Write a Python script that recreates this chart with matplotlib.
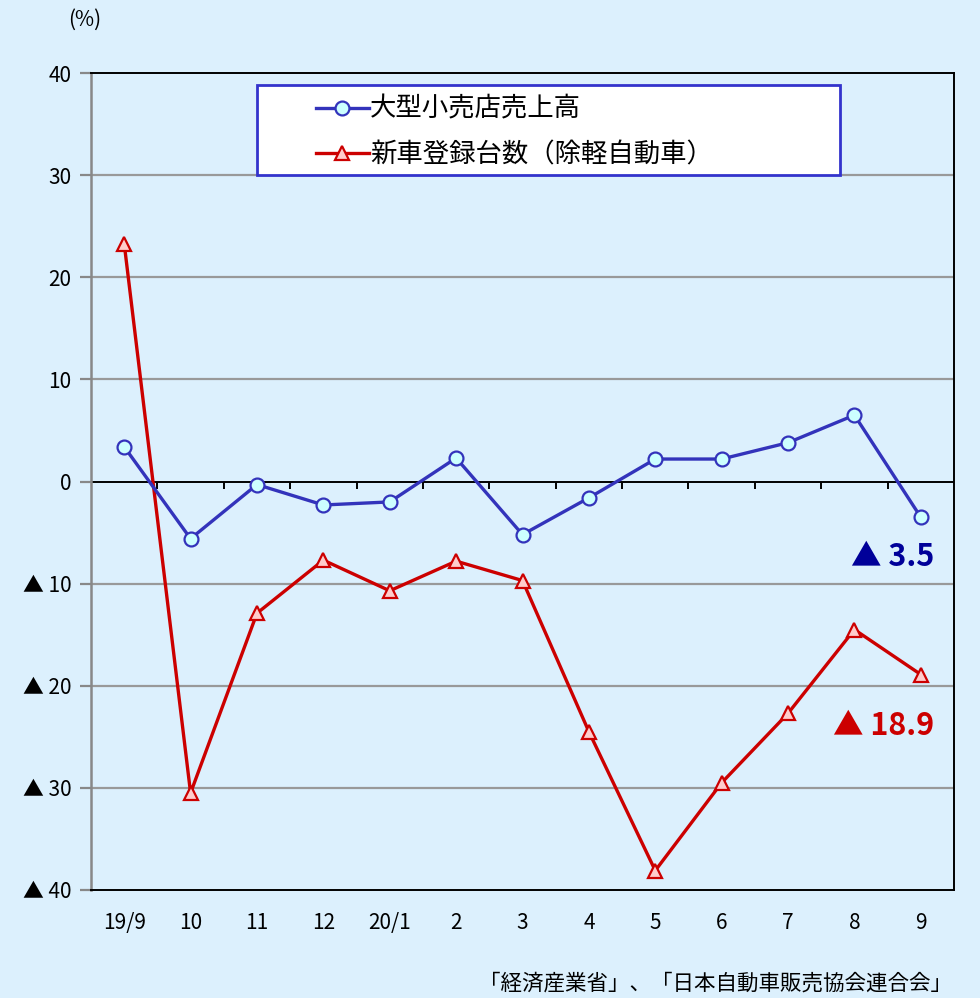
import matplotlib
matplotlib.use("Agg")
import matplotlib.pyplot as plt
from matplotlib.patches import Rectangle

plt.rcParams["font.family"] = ["Noto Sans CJK JP", "DejaVu Sans"]

months = ["19/9", "10", "11", "12", "20/1", "2", "3", "4", "5", "6", "7", "8", "9"]
retail_sales = [3.4, -5.6, -0.3, -2.3, -2.0, 2.3, -5.2, -1.6, 2.2, 2.2, 3.8, 6.5, -3.5]
new_cars = [23.3, -30.5, -12.9, -7.7, -10.7, -7.8, -9.7, -24.5, -38.1, -29.5, -22.7, -14.5, -18.9]
y_ticks = [40, 30, 20, 10, 0, -10, -20, -30, -40]

retail_label = "大型小売店売上高"
cars_label = "新車登録台数（除軽自動車）"
source_text = "「経済産業省」、「日本自動車販売協会連合会」"

BG = "#DCF0FD"
BLUE = "#3333BB"
RED = "#CC0000"


def pct_label(v):
    # negative values are written with a ▲ prefix
    return f"▲ {abs(v):g}" if v < 0 else f"{v:g}"


fig = plt.figure(figsize=(9.8, 9.98), dpi=100, facecolor=BG)
ax = fig.add_axes([91 / 980, 1 - 890 / 998, (954 - 91) / 980, (890 - 73) / 998])
ax.set_facecolor(BG)

x = list(range(len(months)))
ax.set_xlim(-0.5, len(months) - 0.5)
ax.set_ylim(-40, 40)

for v in y_ticks[1:-1]:
    if v != 0:
        ax.axhline(v, color="#999999", linewidth=1.6, zorder=1)
ax.axhline(0, color="black", linewidth=1.4, zorder=2)
ax.vlines([i + 0.5 for i in x[:-1]], -0.7, 0, color="black", linewidth=1.4, zorder=2)

ax.plot(x, retail_sales, color=BLUE, linewidth=2.4, marker="o", markersize=10,
        markerfacecolor="#CCFFFF", markeredgecolor=BLUE, markeredgewidth=1.6,
        zorder=4, label=retail_label)
ax.plot(x, new_cars, color=RED, linewidth=2.4, marker="^", markersize=10,
        markerfacecolor="#FFCCCC", markeredgecolor=RED, markeredgewidth=1.6,
        zorder=3, label=cars_label)

ax.set_yticks(y_ticks)
ax.set_yticklabels([pct_label(v) for v in y_ticks], fontsize=15)
ax.set_xticks(x)
ax.set_xticklabels(months, fontsize=15)
ax.tick_params(axis="x", length=0, pad=16)
ax.tick_params(axis="y", length=8, width=1.6, color="#888888", pad=6)

for side in ["top", "right", "bottom"]:
    ax.spines[side].set_color("black")
    ax.spines[side].set_linewidth(1.4)
ax.spines["left"].set_color("#888888")
ax.spines["left"].set_linewidth(1.8)

# latest values, written next to the last points
ax.text(len(months) - 0.8, -7.4, pct_label(retail_sales[-1]), color="#000099",
        fontsize=22, fontweight="bold", ha="right", va="center")
ax.text(len(months) - 0.8, -23.9, pct_label(new_cars[-1]), color=RED,
        fontsize=22, fontweight="bold", ha="right", va="center")

fig.text(85 / 980, 1 - 20 / 998, "(%)", fontsize=15, ha="center", va="center")
fig.text(952 / 980, 1 - 984 / 998, source_text, fontsize=15.5, ha="right", va="center")

# legend box
fig.patches.append(Rectangle((257 / 980, 1 - 175 / 998), (840 - 257) / 980, 90 / 998,
                             transform=fig.transFigure, facecolor="white",
                             edgecolor="#3333CC", linewidth=2, zorder=5))
leg = fig.legend(loc="upper left", bbox_to_anchor=(292 / 980, 1 - 72 / 998),
                 frameon=False, fontsize=19, handlelength=2.0, handletextpad=0.05,
                 labelspacing=0.7)
leg.set_zorder(6)

fig.savefig("out.png", dpi=100, facecolor=BG)
